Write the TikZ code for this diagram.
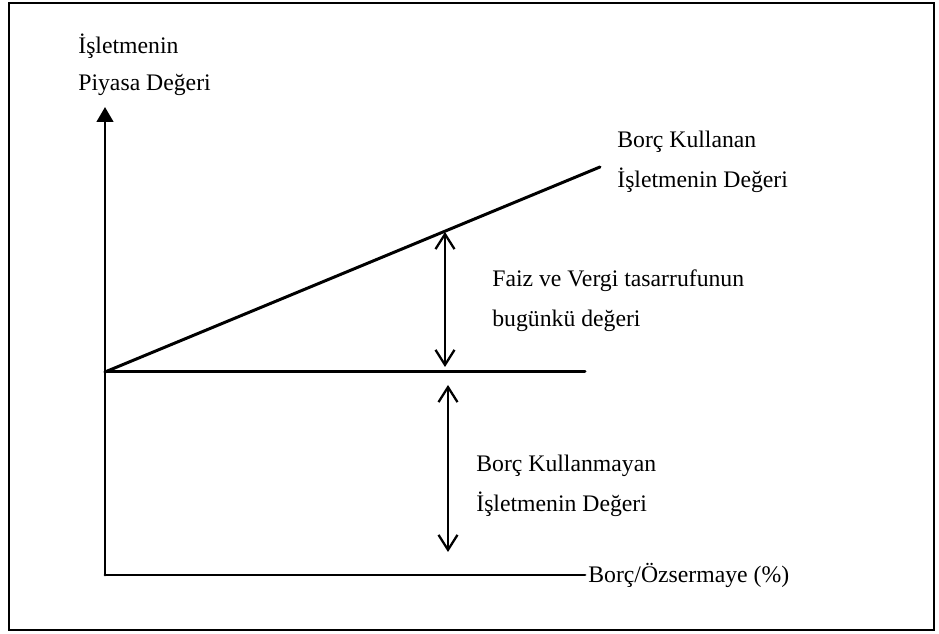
\documentclass[tikz,border=0pt]{standalone}
\usepackage{fontspec}
\setmainfont{Liberation Serif}
\usepackage{tikz}
\usetikzlibrary{arrows.meta,positioning}
\tikzset{
  lv diagram/.style={x=0.02cm, y=0.02cm, font=\fontsize{13.5}{21}\selectfont,
    line cap=round, line join=miter},
  lv frame/.style={draw=black, line width=1.2pt},
  lv axis/.style={draw=black, line width=1.7pt},
  lv yaxis/.style={lv axis, -{Triangle[length=3mm,width=3.3mm]}},
  lv line/.style={draw=black, line width=1.7pt},
  lv span/.style={{Straight Barb[length=3mm,width=3.8mm]}-{Straight Barb[length=3mm,width=3.8mm]},
    draw=black, line width=1.3pt},
  lv label/.style={anchor=west, align=left, inner sep=0pt},
  lv wide label/.style={lv label, font=\fontsize{13.5}{22.8}\selectfont}
}
\begin{document}
\begin{tikzpicture}[lv diagram]
\useasboundingbox (0,0) rectangle (939,634);
\draw[lv frame] (9,4) rectangle (934,631);
% axes
\coordinate (origin) at (105,59);
\coordinate (ytop) at (105,527);
\coordinate (xend) at (585,59);
\draw[lv yaxis] (origin) -- (ytop);
\draw[lv axis] (origin) -- (xend);
% unlevered and levered value
\coordinate (unlev) at (105,262);
\coordinate (unlevend) at (585,262);
\coordinate (levend) at (600,467);
\draw[lv line] (unlev) -- (unlevend);
\draw[lv line] (unlev) -- (levend);
% spans
\coordinate (taxtop) at (445,402);
\coordinate (taxbot) at (445,267);
\coordinate (basetop) at (448,249);
\coordinate (basebot) at (448,82);
\draw[lv span] (taxtop) -- (taxbot);
\draw[lv span] (basetop) -- (basebot);
% labels
\node[lv label] (ylabel) at (78,569.5) {İşletmenin\\Piyasa Değeri};
\node[lv label] (xlabel) at (588,59) {Borç/Özsermaye (\%)};
\node[lv wide label] (levlabel) at (617,472) {Borç Kullanan\\İşletmenin Değeri};
\node[lv wide label] (taxlabel) at (492,333) {Faiz ve Vergi tasarrufunun\\bugünkü değeri};
\node[lv wide label] (unlevlabel) at (476,148) {Borç Kullanmayan\\İşletmenin Değeri};
\end{tikzpicture}
\end{document}
